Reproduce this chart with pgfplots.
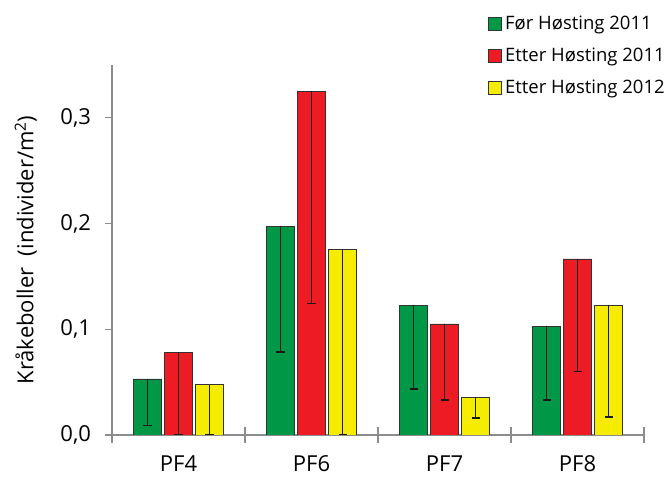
\documentclass[border=0pt]{standalone}
\usepackage{pgfplots}
\pgfplotsset{compat=1.18}
\usepackage{fontspec}
\setmainfont{Open Sans}
\definecolor{bgreen}{RGB}{0,152,70}
\definecolor{bred}{RGB}{237,28,36}
\definecolor{byellow}{RGB}{246,236,0}
\definecolor{axgray}{RGB}{140,140,140}
\begin{document}
\begin{tikzpicture}
\useasboundingbox (-112bp,-45bp) rectangle (554bp,435bp);
\begin{axis}[
  at={(0,0)}, anchor=south west,
  scale only axis, width=532bp, height=370bp,
  xmin=0, xmax=4, ymin=0, ymax=0.35,
  ybar=2.3bp, bar width=28.7bp,
  axis x line*=bottom, axis y line*=left,
  axis line style={axgray, line width=1.2bp},
  xtick={0.5,1.5,2.5,3.5}, xticklabels={PF4,PF6,PF7,PF8},
  minor xtick={0,1,2,3,4},
  every major x tick/.style={draw=none},
  ytick={0,0.1,0.2,0.3},
  tick style={axgray, line width=1.2bp},
  major tick length=7bp,
  minor tick length=15bp,
  ytick align=outside,
  xtick align=center,
  tick label style={font=\fontsize{22bp}{26bp}\selectfont},
  yticklabel style={xshift=-10.5bp, /pgf/number format/.cd, fixed, fixed zerofill, precision=1, use comma, assume math mode=true},
  xticklabel style={yshift=-14bp},
  ylabel={Kråkeboller\ \ (individer/m\textsuperscript{2})},
  ylabel style={at={(axis description cs:-0.162,0.5)}, anchor=center, font=\fontsize{22bp}{26bp}\selectfont},
  legend style={at={(rel axis cs:0.707,1.138)}, anchor=north west, draw=none, fill=none,
    font=\fontsize{18.5bp}{22bp}\selectfont, row sep=13bp, inner sep=0pt,
    nodes={inner xsep=3bp}},
  legend cell align=left,
  legend image code/.code={\draw[#1, line width=0.8bp] (0bp,-6.5bp) rectangle (13bp,6.5bp);},
  error bars/error bar style={line width=1.4bp, black!90},
  error bars/error mark options={rotate=90, mark size=4bp, line width=1.4bp, black!90},
]
\addplot[fill=bgreen, draw=black!80, line width=0.8bp,
  error bars/.cd, y dir=minus, y explicit]
  coordinates {(0.5,0.053) -= (0,0.044) (1.5,0.197) -= (0,0.1185) (2.5,0.1225) -= (0,0.0788) (3.5,0.103) -= (0,0.070)};
\addplot[fill=bred, draw=black!80, line width=0.8bp,
  error bars/.cd, y dir=minus, y explicit]
  coordinates {(0.5,0.0785) -= (0,0.0785) (1.5,0.325) -= (0,0.2005) (2.5,0.105) -= (0,0.0718) (3.5,0.1665) -= (0,0.1067)};
\addplot[fill=byellow, draw=black!80, line width=0.8bp,
  error bars/.cd, y dir=minus, y explicit]
  coordinates {(0.5,0.0475) -= (0,0.0475) (1.5,0.1755) -= (0,0.1755) (2.5,0.0358) -= (0,0.0197) (3.5,0.1225) -= (0,0.1054)};
\legend{Før Høsting 2011, Etter Høsting 2011, Etter Høsting 2012}
\end{axis}
\end{tikzpicture}
\end{document}
